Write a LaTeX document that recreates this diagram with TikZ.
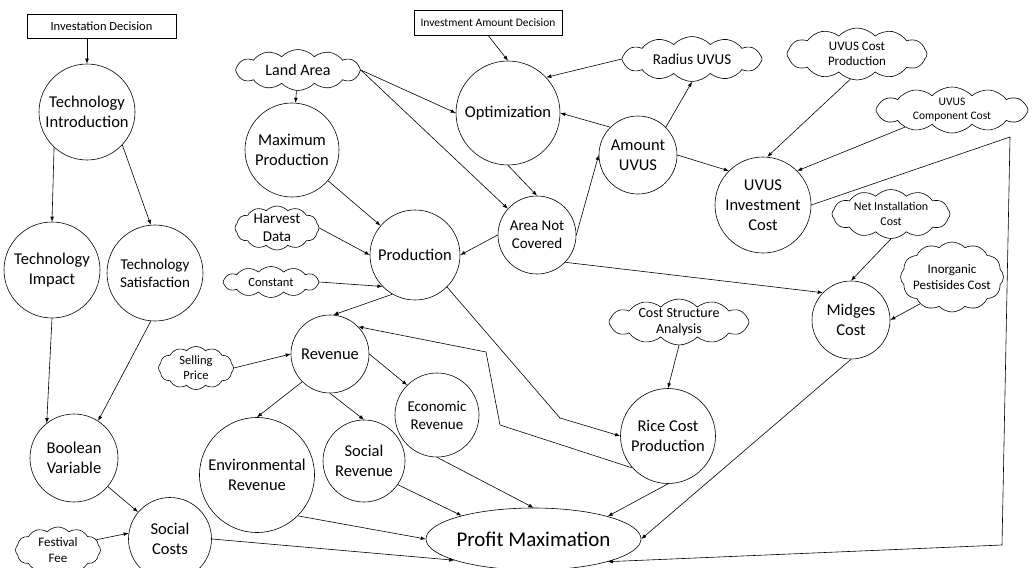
\documentclass[tikz,border=0pt]{standalone}
\usepackage{fontspec}
\setmainfont{Carlito}
\usetikzlibrary{shapes.geometric,shapes.symbols,arrows.meta}
\newcommand\fs[1]{\fontsize{#1}{\dimexpr #1pt*6/5\relax}\selectfont}
\begin{document}
\begin{tikzpicture}[x=1pt,y=-1pt, line width=0.6pt,
  cir/.style={circle, draw, inner sep=0pt, minimum size=#1, align=center, font=\fs{16.5}},
  cl/.style 2 args={cloud, draw, cloud puffs=12, cloud puff arc=95, cloud ignores aspect, inner sep=0pt, minimum width=#1, minimum height=#2},
  lt/.style={align=center, inner sep=0pt},
  bx/.style 2 args={rectangle, draw, inner sep=0pt, minimum width=#1, minimum height=#2},
  arr/.style={-{Latex[length=5pt,width=3.8pt]}}]
\useasboundingbox (0,0) rectangle (1035,567);
% left column
\node[bx={149}{24}, font=\fs{12.5}] (invdec) at (101.5,26) {Investation Decision};
\node[cir=96] (techintro) at (87,112) {Technology\\Introduction};
\node[cir=96] (techimpact) at (52,270) {Technology\\Impact};
\node[cir=96, font=\fs{15}] (techsat) at (155,273) {Technology\\Satisfaction};
\node[cir=88] (boolean) at (74,458) {Boolean\\Variable};
\node[cir=83] (socialcosts) at (170,539) {Social\\Costs};
\node[cl={85}{46}, label={[lt, font=\fs{13}]center:Festival\\Fee}] (festival) at (58,550) {};
% revenue block
\node[cir=78] (revenue) at (330,354) {Revenue};
\node[cl={75}{43}, label={[lt, font=\fs{12.5}]center:Selling\\Price}] (selling) at (196,368) {};
\node[cir=115] (envrev) at (257,475) {Environmental\\Revenue};
\node[cir=82] (socrev) at (364,461) {Social\\Revenue};
\node[cir=84, font=\fs{15}] (econrev) at (437,415) {Economic\\Revenue};
\node[cir=95] (rice) at (668,436) {Rice Cost\\Production};
\node[cl={140}{46}, label={[lt, font=\fs{14}]center:Cost Structure\\Analysis}] (costsa) at (679,322) {};
\node[ellipse, draw, inner sep=0pt, inner xsep=-6pt, minimum width=215, minimum height=62, font=\fs{21}] (profit) at (533.5,539) {Profit Maximation};
% production block
\node[cir=90] (production) at (415,255) {Production};
\node[cir=94] (maxprod) at (292,150) {Maximum\\Production};
\node[cl={125}{41}, label={[lt, font=\fs{16}]center:Land Area}] (landarea) at (298,70) {};
\node[cl={84}{44}, label={[lt, font=\fs{15}]center:Harvest\\Data}] (harvest) at (277,228) {};
\node[cl={96}{31}, label={[lt, font=\fs{12.5}]center:Constant}] (constant) at (271,282) {};
% optimization block
\node[cir=104] (optimization) at (508,113) {Optimization};
\node[bx={148}{25}, font=\fs{11.5}] (invamt) at (488,22.5) {Investment Amount Decision};
\node[cir=78, font=\fs{15}] (anc) at (537,235) {Area Not\\Covered};
\node[cir=78] (amount) at (638,155) {Amount\\UVUS};
\node[cl={140}{45}, label={[lt, font=\fs{15}]center:Radius UVUS}] (radius) at (692,59) {};
\node[cl={140}{52}, label={[lt, font=\fs{13}]center:UVUS Cost\\Production}] (ucp) at (857,54) {};
\node[cl={152}{46}, label={[lt, font=\fs{11.5}]center:UVUS\\Component Cost}] (ucc) at (952,110) {};
\node[cir=96] (uvusinv) at (763,205) {UVUS\\Investment\\Cost};
\node[cl={118}{49}, label={[lt, font=\fs{12}]center:Net Installation\\Cost}] (netinst) at (891,214) {};
\node[cl={103}{70}, label={[lt, font=\fs{13}]center:Inorganic\\Pestisides Cost}] (inorg) at (952,277) {};
\node[cir=78] (midges) at (851,320) {Midges\\Cost};
% corner coordinates
\coordinate (c1) at (1010,137);
\coordinate (c2) at (1002,545);
\coordinate (r1) at (500,425);
\coordinate (r2) at (486,352);
\coordinate (p1) at (560,418);
% edges left
\draw[arr] (invdec.south -| techintro.north) -- (techintro.north);
\draw[arr] (techintro.227) -- (techimpact.north);
\draw[arr] (techintro.-43) -- (techsat.95);
\draw[arr] (techimpact.south) -- (boolean.128);
\draw[arr] (techsat.265) -- (boolean.57);
\draw[arr] (boolean) -- (socialcosts);
\draw[arr] (festival.15) -- (socialcosts.172);
\draw[arr] (socialcosts.east) -- (profit.195);
% revenue edges
\draw[arr] (production.240) -- (revenue.85);
\draw[arr] (selling.east) -- (revenue.west);
\draw[arr] (revenue.225) -- (envrev.north);
\draw[arr] (revenue.south) -- (socrev.north);
\draw[arr] (revenue.east) -- (econrev.135);
\draw[arr] (envrev.-45) -- (profit.west);
\draw[arr] (socrev.-35) -- (profit.162);
\draw[arr] (econrev.south) -- (profit.north);
\draw[arr] (rice.south) -- (profit.17);
\draw[arr] (costsa.south) -- (rice.north);
\draw[arr] (rice.222) -- (r1) -- (r2) -- (revenue.44);
\draw[arr] (production.-45) -- (p1) -- (rice.west);
% production edges
\draw[arr] (landarea) -- (maxprod);
\draw[arr] (landarea.east) -- (optimization.west);
\draw[arr] (landarea.east) -- (anc.138);
\draw[arr] (maxprod) -- (production);
\draw[arr] (harvest.east) -- (production.west);
\draw[arr] (constant.east) -- (production.224);
% optimization edges
\draw[arr] (invamt.south) -- (optimization.north);
\draw[arr] (radius.west) -- (optimization.43);
\draw[arr] (amount.135) -- (optimization.east);
\draw[arr] (optimization.south) -- (anc.north);
\draw[arr] (anc.west) -- (production.east);
\draw[arr] (anc.east) -- (amount.west);
\draw[arr] (amount.45) -- (radius.south);
\draw[arr] (amount.east) -- (uvusinv.135);
\draw[arr] (ucp.255) -- (uvusinv.85);
\draw[arr] (ucc.200) -- (uvusinv.45);
\draw[arr] (uvusinv.east) -- (c1) -- (c2) -- (profit.-17);
\draw[arr] (anc.-44) -- (midges.136);
\draw[arr] (netinst.south) -- (midges.north);
\draw[arr] (inorg.220) -- (midges.east);
\draw[arr] (midges.south) -- (profit.east);
\end{tikzpicture}
\end{document}
